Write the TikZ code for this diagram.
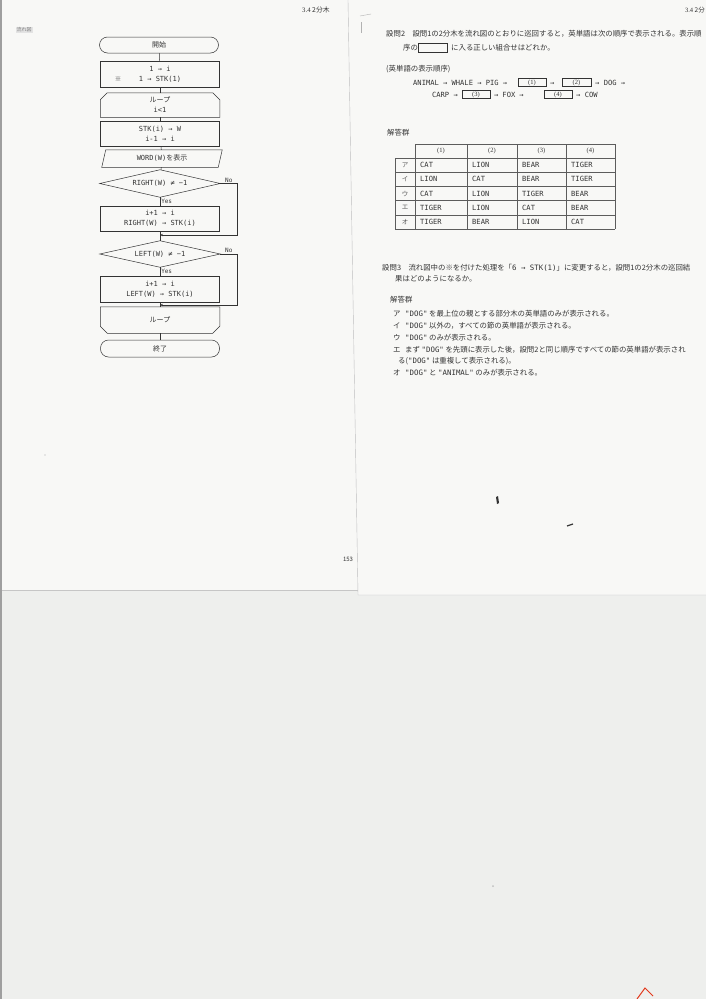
\documentclass[tikz,border=0pt]{standalone}
\usepackage{fontspec}
\setmainfont{Noto Sans CJK JP}
\newfontfamily\code{DejaVu Sans Mono}
\newfontfamily\serifnum{Liberation Serif}
\usetikzlibrary{arrows.meta}
\definecolor{ink}{HTML}{333333}
\definecolor{paper}{HTML}{F8F8F6}
\definecolor{desk}{HTML}{EEEFED}
\newcommand\kw[1]{{\code #1}}
\begin{document}
\begin{tikzpicture}[x=1pt,y=-1pt,
  line/.style={draw=ink,line width=0.5pt},
  grid/.style={draw=ink!80,line width=0.45pt},
  flowbox/.style={line,minimum width=119pt,minimum height=26pt,inner sep=0pt,align=center,text=ink,font=\code\fontsize{7}{10}\selectfont},
  termbox/.style={flowbox,rounded corners=8pt,minimum height=16pt},
  shapebox/.style={flowbox,draw=none},
  blank/.style={line,minimum width=28pt,minimum height=8pt,inner sep=0pt,text=ink,font=\serifnum\fontsize{6.5}{7}\selectfont},
  txt/.style={anchor=base west,inner sep=0pt,text=ink,font=\fontsize{7.4}{9}\selectfont},
  cell/.style={anchor=base west,inner sep=0pt,text=ink,font=\code\fontsize{7.1}{8}\selectfont},
  lbl/.style={inner sep=1pt,text=ink,font=\code\fontsize{6}{7}\selectfont},
  arr/.style={line,-{Stealth[length=3pt,width=2.4pt]}}]
  \useasboundingbox (0,0) rectangle (706,999);
  % scanned pages
  \fill[desk] (0,0) rectangle (706,999);
  \fill[paper] (0,0) rectangle (358,590);
  \draw[gray!45] (0,590) -- (358,590);
  \fill[gray!75] (0,0) rectangle (2,999);

  % left page: flow chart
  \node[anchor=base west,inner sep=0pt,text=ink,font=\fontsize{6.8}{7}\selectfont] (hdrL) at (302,12) {{\serifnum 3.4}\ 2分木};
  \node[fill=gray!22,text=gray,inner sep=1pt,font=\fontsize{5}{6}\selectfont] (tag) at (24,30) {流れ図};

  \node[termbox] (start) at (159,45) {{\rmfamily 開始}};
  \node[flowbox] (init) at (160,74) {1 → i\\1 → STK(1)};
  \node[lbl,font=\fontsize{6.5}{7}\selectfont] (note) at (118,79) {※};
  \node[shapebox,minimum height=24pt] (loopA) at (160,105) {{\rmfamily ループ}\\i<1};
  \draw[line] ([yshift=-7pt]loopA.north west) -- ([xshift=7pt]loopA.north west) -- ([xshift=-7pt]loopA.north east) -- ([yshift=-7pt]loopA.north east) -- (loopA.south east) -- (loopA.south west) -- cycle;
  \node[flowbox,minimum height=25pt] (pop) at (160,133.5) {STK(i) → W\\i-1 → i};
  \node[shapebox,minimum height=17pt,minimum width=116pt] (show) at (162,158.5) {WORD(W){\rmfamily を表示}};
  \draw[line] ([xshift=-2pt]show.south west) -- ([xshift=2pt]show.north west) -- ([xshift=2pt]show.north east) -- ([xshift=-2pt]show.south east) -- cycle;
  \node[shapebox,minimum width=120pt,minimum height=27pt] (chkR) at (160,183.5) {RIGHT(W) ≠ −1};
  \draw[line] (chkR.west) -- (chkR.north) -- (chkR.east) -- (chkR.south) -- cycle;
  \node[flowbox,minimum height=25pt] (pushR) at (160,218.5) {i+1 → i\\RIGHT(W) → STK(i)};
  \coordinate (join1) at (160,235);
  \node[shapebox,minimum width=120pt,minimum height=26pt] (chkL) at (160,254) {LEFT(W) ≠ −1};
  \draw[line] (chkL.west) -- (chkL.north) -- (chkL.east) -- (chkL.south) -- cycle;
  \node[flowbox] (pushL) at (160,289) {i+1 → i\\LEFT(W) → STK(i)};
  \coordinate (join2) at (160,305);
  \node[shapebox] (loopB) at (160,320) {{\rmfamily ループ}};
  \draw[line] (loopB.north west) -- (loopB.north east) -- ([yshift=7pt]loopB.south east) -- ([xshift=-7pt]loopB.south east) -- ([xshift=7pt]loopB.south west) -- ([yshift=7pt]loopB.south west) -- cycle;
  \node[termbox,minimum height=17pt] (stop) at (160,348.5) {{\rmfamily 終了}};

  \draw[line] (start) -- (init);
  \draw[line] (init) -- (loopA);
  \draw[line] (loopA) -- (pop);
  \draw[line] (pop) -- (show);
  \draw[line] (show) -- (chkR);
  \draw[line] (chkR) -- node[lbl,right] (yesR) {Yes} (pushR);
  \draw[line] (pushR) -- (chkL);
  \draw[arr] (chkR.east) -- node[lbl,above] (noR) {No} ++(17,0) |- (join1);
  \draw[line] (chkL) -- node[lbl,right] (yesL) {Yes} (pushL);
  \draw[line] (pushL) -- (loopB);
  \draw[arr] (chkL.east) -- node[lbl,above] (noL) {No} ++(17,0) |- (join2);
  \draw[line] (loopB) -- (stop);

  \node[inner sep=0pt,text=ink,font=\fontsize{6}{7}\selectfont] (folio) at (348,559) {153};
  \fill[gray!35] (45,455) circle[radius=0.8pt];

  % right page
  \fill[paper] (348,0) -- (706,0) -- (706,595) -- (358,595) -- cycle;
  \draw[gray!50] (348,0) -- (358,595) -- (706,595);
  \draw[gray!60] (360,16) -- (371,14);
  \draw[gray!60] (361,22) -- (361,33);

  \node[txt,anchor=base east,font=\fontsize{6.5}{7}\selectfont] (hdrR) at (705,12) {{\serifnum 3.4}\ 2分};
  \node[txt] (q2a) at (386,36) {設問2　設問1の2分木を流れ図のとおりに巡回すると，英単語は次の順序で表示される。表示順};
  \node[txt] (q2b) at (403,50) {序の};
  \node[blank,minimum width=29pt,minimum height=9pt] (gap) at (432.5,47.5) {};
  \node[txt] (q2c) at (451,50) {に入る正しい組合せはどれか。};
  \node[txt] (order) at (386,71) {(英単語の表示順序)};

  \node[cell] (row1) at (413,85) {ANIMAL → WHALE → PIG →};
  \node[blank] (b1) at (532,82.5) {(1)};
  \node[cell] (row1b) at (550,85) {→};
  \node[blank,minimum width=29pt] (b2) at (576.5,82.5) {(2)};
  \node[cell] (row1c) at (595,85) {→ DOG →};
  \node[cell,anchor=base east] (row2) at (458,97) {CARP →};
  \node[blank] (b3) at (476,94.5) {(3)};
  \node[cell] (row2b) at (494,97) {→\hspace{4pt}FOX\hspace{4pt}→};
  \node[blank] (b4) at (558,94.5) {(4)};
  \node[cell] (row2c) at (576,97) {→ COW};

  \node[txt] (ans2) at (387,135) {解答群};
  \draw[grid] (415,144) -- (615,144);
  \foreach \y in {158,172.2,186.4,200.6,214.8,229} \draw[grid] (395,\y) -- (615,\y);
  \draw[grid] (395,158) -- (395,229);
  \foreach \x in {415,467,517,566,615} \draw[grid] (\x,144) -- (\x,229);
  \foreach \h/\x in {1/441,2/492,3/541.5,4/590.5}
    \node[inner sep=0pt,text=ink,font=\serifnum\fontsize{6.5}{7}\selectfont] (h\h) at (\x,151) {(\h)};
  \foreach \k/\a/\b/\c/\d [count=\r] in {ア/CAT/LION/BEAR/TIGER,イ/LION/CAT/BEAR/TIGER,ウ/CAT/LION/TIGER/BEAR,エ/TIGER/LION/CAT/BEAR,オ/TIGER/BEAR/LION/CAT}{
    \node[inner sep=0pt,text=ink!80,font=\fontsize{6.5}{7}\selectfont] (k\r) at (405,151+14.2*\r) {\k};
    \node[cell] (c\r a) at (420,153.5+14.2*\r) {\a};
    \node[cell] (c\r b) at (472,153.5+14.2*\r) {\b};
    \node[cell] (c\r c) at (522,153.5+14.2*\r) {\c};
    \node[cell] (c\r d) at (571,153.5+14.2*\r) {\d};
  }

  \node[txt] (q3a) at (382,270) {設問3　流れ図中の※を付けた処理を「\kw{6 → STK(1)}」に変更すると，設問1の2分木の巡回結};
  \node[txt] (q3b) at (395,281) {果はどのようになるか。};
  \node[txt] (ans3) at (390,302) {解答群};
  \foreach \k/\y in {ア/316,イ/328,ウ/340,エ/352,オ/375}
    \node[txt] (kana\k) at (393,\y) {\k};
  \node[txt] (optA) at (405,316) {\kw{"DOG"} を最上位の親とする部分木の英単語のみが表示される。};
  \node[txt] (optB) at (405,328) {\kw{"DOG"} 以外の，すべての節の英単語が表示される。};
  \node[txt] (optC) at (405,340) {\kw{"DOG"} のみが表示される。};
  \node[txt] (optD) at (405,352) {まず \kw{"DOG"} を先頭に表示した後，設問2と同じ順序ですべての節の英単語が表示され};
  \node[txt] (optD2) at (398,363.5) {る(\kw{"DOG"} は重複して表示される)。};
  \node[txt] (optE) at (405,375) {\kw{"DOG"} と \kw{"ANIMAL"} のみが表示される。};

  % specks of the scan
  \fill[ink] (496,497) -- (498,496) -- (499,503) -- (497,504) -- cycle;
  \draw[ink,line width=1.2pt] (567,526) -- (573,524);
  \fill[gray!50] (493,886) circle[radius=1pt];
  \draw[red!55!brown,line width=1pt] (637,999) -- (645,988) -- (653,996);
\end{tikzpicture}
\end{document}
